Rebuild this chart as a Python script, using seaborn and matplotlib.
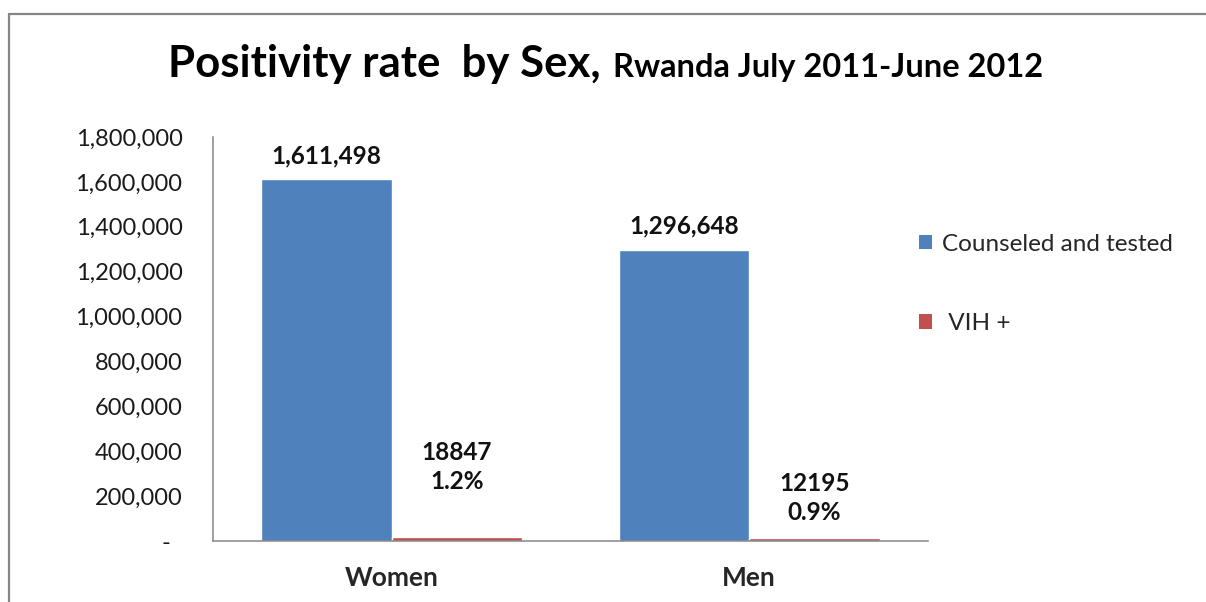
import matplotlib
matplotlib.use("Agg")
import matplotlib.pyplot as plt
from matplotlib.lines import Line2D
from matplotlib.patches import Patch
from matplotlib.ticker import FuncFormatter, MultipleLocator
import pandas as pd
import seaborn as sns

# Data
sexes = ["Women", "Men"]
series = ["Counseled and tested", "VIH +"]
tested = [1611498, 1296648]
positive = [18847, 12195]
positive_pct = ["1.2%", "0.9%"]

BLUE = "#4F81BD"
RED = "#C0504D"
GRAY = "#868686"
FONT = "Lato"

df = pd.DataFrame({
    "sex": sexes * 2,
    "series": [series[0]] * 2 + [series[1]] * 2,
    "value": tested + positive,
})

sns.set_theme(style="white")
plt.rcParams["font.family"] = [FONT, "DejaVu Sans"]

fig = plt.figure(figsize=(12.06, 6.02), dpi=100)
ax = fig.add_axes([213 / 1206, 1 - 541 / 602, (928 - 213) / 1206, (541 - 137) / 602])

sns.barplot(data=df, x="sex", y="value", hue="series", order=sexes,
            hue_order=series, palette=[BLUE, RED], saturation=1,
            width=0.73, gap=0, ax=ax, legend=False)

ax.set_xlim(-0.5, 1.5)
ax.set_ylim(0, 1800000)
ax.yaxis.set_major_locator(MultipleLocator(200000))
ax.yaxis.set_major_formatter(FuncFormatter(lambda v, p: "-  " if v == 0 else f"{v:,.0f}"))
ax.set_xlabel("")
ax.set_ylabel("")
ax.tick_params(axis="y", length=0, pad=22, labelsize=17, labelcolor="#1a1a1a")
ax.tick_params(axis="x", length=0, pad=18, labelsize=19)
for lbl in ax.get_xticklabels():
    lbl.set_fontweight("bold")
for side in ["top", "right"]:
    ax.spines[side].set_visible(False)
for side in ["left", "bottom"]:
    ax.spines[side].set_color(GRAY)
    ax.spines[side].set_linewidth(1.1)
ax.grid(False)

# Value labels on the bars
bars_tested = ax.containers[0]
bars_pos = ax.containers[1]
for bar, val in zip(bars_tested, tested):
    ax.annotate(f"{val:,}", (bar.get_x() + bar.get_width() / 2, val),
                xytext=(0, 17), textcoords="offset points",
                ha="center", va="center", fontsize=17.5, fontweight="bold",
                color="#111111")
pos_offsets = [50, 29]
for bar, val, pct, off in zip(bars_pos, positive, positive_pct, pos_offsets):
    ax.annotate(f"{val}\n{pct}", (bar.get_x() + bar.get_width() / 2, val),
                xytext=(0, off), textcoords="offset points",
                ha="center", va="center", fontsize=17.5, fontweight="bold",
                color="#111111", linespacing=1.3)

# Legend
handles = [Patch(facecolor=BLUE, edgecolor="none"), Patch(facecolor=RED, edgecolor="none")]
fig.legend(handles, ["Counseled and tested", " VIH +"], loc="upper left",
           bbox_to_anchor=(909 / 1206, 1 - 224 / 602), frameon=False,
           fontsize=17.5, handlelength=0.55, handleheight=0.55,
           handletextpad=0.4, labelspacing=2.4, borderaxespad=0)

# Title
t1 = fig.text(168 / 1206, 1 - 77 / 602, "Positivity rate  by Sex,", fontsize=31.5,
              fontweight="bold", ha="left", va="baseline", color="#000000")
fig.canvas.draw()
bb = t1.get_window_extent()
fig.text((bb.x1 + 12) / 1206, 1 - 77 / 602, "Rwanda July 2011-June 2012",
         fontsize=23.5, fontweight="bold", ha="left", va="baseline", color="#000000")

# Chart frame
fig.add_artist(Line2D([9 / 1206, 9 / 1206], [0, 1 - 14 / 602], transform=fig.transFigure,
                      color=GRAY, lw=1.6))
fig.add_artist(Line2D([9 / 1206, 1], [1 - 14 / 602, 1 - 14 / 602], transform=fig.transFigure,
                      color=GRAY, lw=1.6))

fig.savefig("out.png", dpi=100, facecolor="white")
